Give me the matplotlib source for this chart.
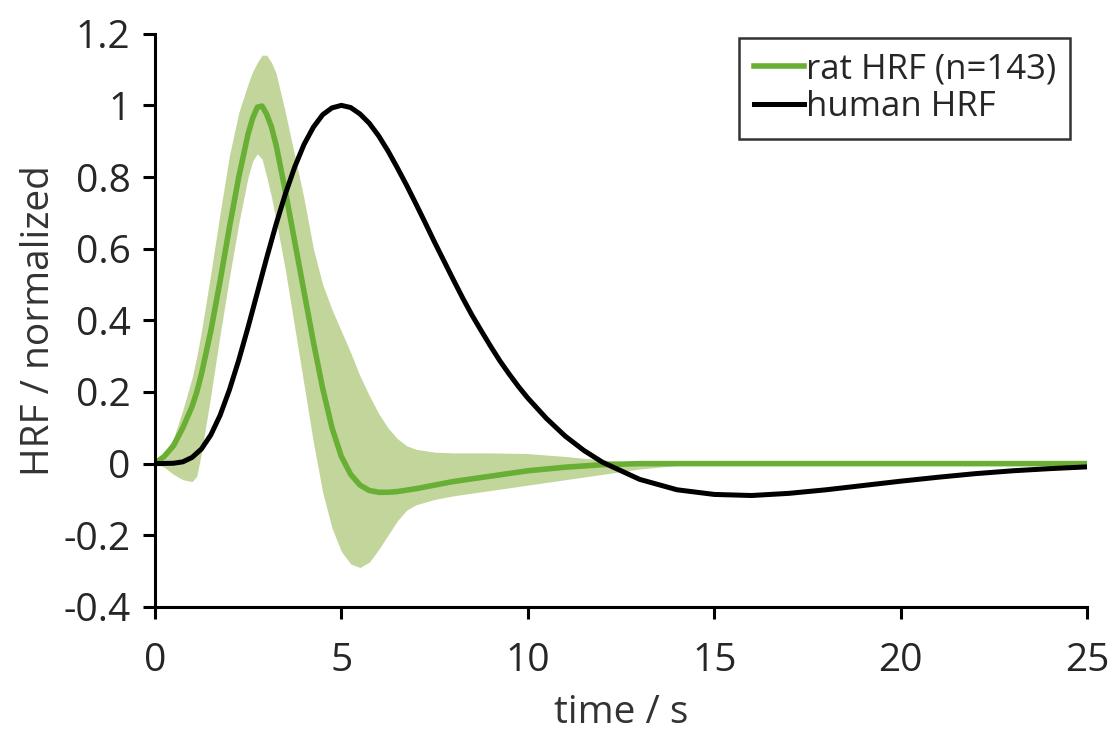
import numpy as np
import matplotlib.pyplot as plt

plt.rcParams['font.family'] = ['Open Sans', 'DejaVu Sans']

# rat HRF, mean and band edges
rat_t = [0, 0.25, 0.5, 0.75, 1.0, 1.125, 1.25, 1.5, 1.75, 2.0, 2.25, 2.5, 2.625, 2.75,
         2.875, 3.0, 3.125, 3.25, 3.5, 3.75, 4.0, 4.25, 4.5, 4.75, 5.0, 5.25, 5.5,
         5.75, 6.0, 6.25, 6.5, 6.75, 7.0, 7.5, 8, 9, 10, 11, 12, 13, 14, 15, 20, 25]
rat_mean = [0, 0.02, 0.05, 0.10, 0.16, 0.20, 0.25, 0.37, 0.51, 0.66, 0.80, 0.92, 0.965, 0.995,
            0.998, 0.975, 0.94, 0.89, 0.76, 0.62, 0.48, 0.34, 0.21, 0.10, 0.02, -0.03, -0.06,
            -0.075, -0.08, -0.08, -0.078, -0.074, -0.07, -0.06, -0.05, -0.035, -0.02, -0.01,
            -0.003, 0, 0, 0, 0, 0]
rat_upper = [0, 0.03, 0.07, 0.15, 0.24, 0.30, 0.37, 0.53, 0.70, 0.86, 0.98, 1.06, 1.095, 1.12,
             1.14, 1.14, 1.12, 1.09, 0.98, 0.86, 0.74, 0.60, 0.50, 0.43, 0.37, 0.31, 0.245,
             0.19, 0.14, 0.10, 0.07, 0.05, 0.04, 0.032, 0.03, 0.03, 0.028, 0.02, 0.01, 0.003,
             0, 0, 0, 0]
rat_lower = [0, -0.01, -0.03, -0.045, -0.05, -0.035, 0.03, 0.19, 0.36, 0.52, 0.67, 0.80, 0.845,
             0.865, 0.85, 0.80, 0.745, 0.68, 0.54, 0.38, 0.22, 0.06, -0.08, -0.18, -0.245,
             -0.28, -0.29, -0.275, -0.24, -0.20, -0.16, -0.13, -0.115, -0.10, -0.09, -0.075,
             -0.06, -0.045, -0.03, -0.015, -0.005, 0, 0, 0]

# human HRF
human_t = [0, 0.5, 0.75, 1, 1.25, 1.5, 1.75, 2, 2.25, 2.5, 2.75, 3, 3.25, 3.5, 3.75, 4,
           4.25, 4.5, 4.75, 5, 5.25, 5.5, 5.75, 6, 6.25, 6.5, 6.75, 7, 7.25, 7.5, 7.75,
           8, 8.25, 8.5, 8.75, 9, 9.25, 9.5, 9.75, 10, 10.5, 11, 11.5, 12, 13, 14, 15,
           16, 17, 18, 19, 20, 21, 22, 23, 24, 25]
human_hrf = [0, 0.001, 0.005, 0.0175, 0.041, 0.08, 0.135, 0.206, 0.289, 0.381, 0.478,
             0.575, 0.668, 0.753, 0.828, 0.891, 0.939, 0.974, 0.993, 1.0, 0.994, 0.976,
             0.95, 0.915, 0.873, 0.826, 0.777, 0.725, 0.672, 0.618, 0.566, 0.514, 0.463,
             0.415, 0.371, 0.328, 0.287, 0.25, 0.215, 0.183, 0.126, 0.077, 0.037, 0.004,
             -0.044, -0.073, -0.086, -0.089, -0.083, -0.073, -0.061, -0.049, -0.038,
             -0.028, -0.02, -0.014, -0.009]

fig = plt.figure(figsize=(11.14, 7.33), dpi=100)
ax = fig.add_axes([0.139, 0.172, 0.837, 0.782])

ax.fill_between(rat_t, rat_lower, rat_upper, color='#c2d69b', lw=0)
ax.plot(rat_t, rat_mean, color='#6aaf35', lw=4, label='rat HRF (n=143)',
        solid_joinstyle='round')
ax.plot(human_t, human_hrf, color='black', lw=3.6, label='human HRF',
        solid_joinstyle='round')

ax.set_xlim(0, 25)
ax.set_ylim(-0.4, 1.2)
ax.set_xticks([0, 5, 10, 15, 20, 25])
ax.set_yticks([-0.4, -0.2, 0, 0.2, 0.4, 0.6, 0.8, 1.0, 1.2])
ax.set_yticklabels(['-0.4', '-0.2', '0', '0.2', '0.4', '0.6', '0.8', '1', '1.2'])

for s in ['top', 'right']:
    ax.spines[s].set_visible(False)
for s in ['left', 'bottom']:
    ax.spines[s].set_linewidth(2.2)
ax.tick_params(direction='out', length=8.5, width=2.2, labelsize=28,
               labelcolor='#262626')
ax.tick_params(axis='y', pad=9)
ax.tick_params(axis='x', pad=17)

ax.set_xlabel('time / s', fontsize=28, color='#333333', labelpad=10)
ax.set_ylabel('HRF / normalized', fontsize=28, color='#333333', labelpad=4)

leg = ax.legend(loc='upper right', bbox_to_anchor=(0.982, 0.993), fontsize=25,
                frameon=True, fancybox=False, handlelength=1.45, handletextpad=0.05,
                labelspacing=0.12, borderpad=0.42, borderaxespad=0)
leg.get_frame().set_edgecolor('black')
leg.get_frame().set_linewidth(1.8)
for t in leg.get_texts():
    t.set_color('#262626')

fig.savefig('out.png', dpi=100)
